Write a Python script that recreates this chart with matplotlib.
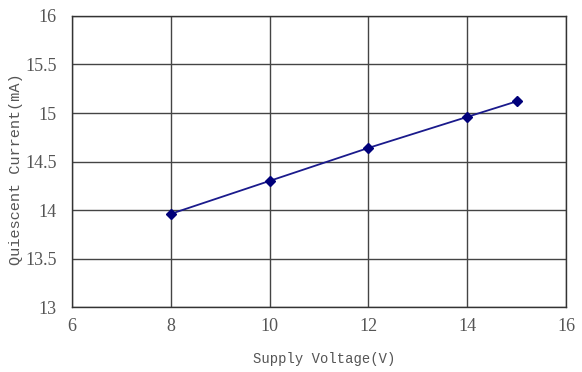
import matplotlib
matplotlib.use("Agg")
import matplotlib.pyplot as plt

voltage = [8, 10, 12, 14, 15]
current = [13.96, 14.30, 14.64, 14.96, 15.12]
x_ticks = [6, 8, 10, 12, 14, 16]
y_ticks = [13, 13.5, 14, 14.5, 15, 15.5, 16]
y_tick_labels = ["13", "13.5", "14", "14.5", "15", "15.5", "16"]

fig = plt.figure(figsize=(5.82, 3.72), dpi=100)
ax = fig.add_axes([0.1237, 0.1747, 0.849, 0.7823])

ax.plot(voltage, current, color="#1a1a8c", linewidth=1.3, marker="D",
        markersize=5, markerfacecolor="#00007a", markeredgecolor="#00007a", zorder=3)

ax.set_xlim(6, 16)
ax.set_ylim(13, 16)
ax.set_xticks(x_ticks)
ax.set_yticks(y_ticks)
ax.set_yticklabels(y_tick_labels)
ax.grid(True, color="#444444", linewidth=1.0)
ax.set_axisbelow(True)
for s in ax.spines.values():
    s.set_color("#333333")
    s.set_linewidth(1.0)
ax.tick_params(axis="y", length=0, pad=11, labelsize=13, labelcolor="#555555")
ax.tick_params(axis="x", length=0, pad=8, labelsize=13, labelcolor="#555555")
for lab in ax.get_xticklabels() + ax.get_yticklabels():
    lab.set_family("Liberation Serif")

ax.set_xlabel("Supply Voltage(V)", family="Liberation Mono", fontsize=10,
              color="#555555")
ax.xaxis.set_label_coords(0.51, -0.155)
ax.set_ylabel("Quiescent Current(mA)", family="Liberation Mono", fontsize=11,
              color="#555555")
ax.yaxis.set_label_coords(-0.1, 0.475)

fig.savefig("out.png", dpi=100)
